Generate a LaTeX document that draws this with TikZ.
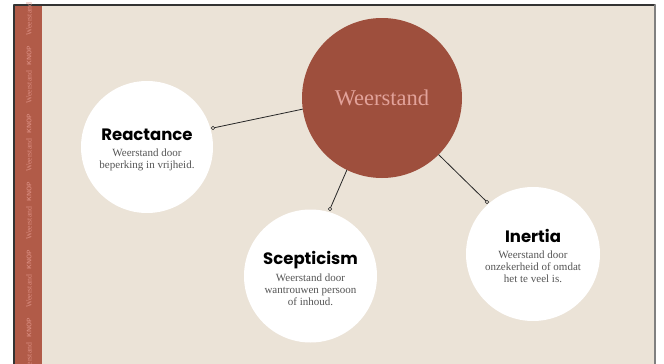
\documentclass[tikz,border=0pt]{standalone}
\usepackage{fontspec}
\setmainfont{Liberation Serif}
\newfontfamily\titlefont{Poppins}
\usetikzlibrary{positioning}
\definecolor{slidebg}{HTML}{EBE3D7}
\definecolor{rust}{HTML}{9E4F3D}
\definecolor{stripred}{HTML}{B15B48}
\definecolor{stripink}{HTML}{D98C80}
\definecolor{pinktext}{HTML}{E2A29A}
\definecolor{desctext}{HTML}{555555}
\tikzset{
  bubble/.style={circle,fill=white,inner sep=0pt},
  bubbletext/.style={inner sep=0pt,align=center,
    font=\fontsize{11}{12}\selectfont,text=desctext},
  link/.style={line width=0.8pt,black!85},
  dot/.style={draw=black!85,fill=slidebg,line width=0.6pt},
  striptext/.style={rotate=90,text=stripink,inner sep=0pt,font=\fontsize{7.8}{8}\selectfont}
}
\newcommand{\bubbletitle}[1]{{\titlefont\bfseries\color{black}\fontsize{16.5}{19}\selectfont #1}\\[4pt]}
\begin{document}
\begin{tikzpicture}[x=1pt,y=-1pt,line cap=round,line join=round]
\useasboundingbox (0,0) rectangle (664,364);
\fill[white] (0,0) rectangle (664,364);
\fill[slidebg] (14,5) rectangle (655,364);
\fill[stripred] (14,5) rectangle (42,364);
\draw[black!80,line width=1.2pt] (14,364) -- (14,5) -- (655,5);
\draw[black!50,line width=1.6pt] (655,5) -- (655,364);
% side strip
\foreach \y in {19,87,155,223,291,359}{
  \node[striptext] at (29,\y) {Weerstand};
  \node[striptext,font=\sffamily\bfseries\fontsize{6.5}{7}\selectfont] at (29,\y-31) {KNOP};
}
% centre
\node[circle,fill=rust,minimum size=160pt,inner sep=0pt,text=pinktext,
  font=\fontsize{22.5}{25}\selectfont] (main) at (382,98) {Weerstand};
% bubbles
\node[bubble,minimum size=132pt] (reactance) at (147,147) {};
\node[bubble,minimum size=133pt] (scepticism) at (310.5,276) {};
\node[bubble,minimum size=134pt] (inertia) at (533,254) {};
\node[bubbletext] (reactance-txt) at ([yshift=-2.5pt]reactance.center)
  {\bubbletitle{Reactance}Weerstand door\\beperking in vrijheid.};
\node[bubbletext] (scepticism-txt) at ([yshift=-2pt]scepticism.center)
  {\bubbletitle{Scepticism}Weerstand door\\wantrouwen persoon\\of inhoud.};
\node[bubbletext] (inertia-txt) at ([yshift=-2pt]inertia.center)
  {\bubbletitle{Inertia}Weerstand door\\onzekerheid of omdat\\het te veel is.};
% connectors
\coordinate (rdot) at (213,128);
\coordinate (sdot) at (330,209);
\coordinate (idot) at (487,202);
\draw[link] (main.188.5) -- (rdot);
\draw[link] (main.244.7) -- (sdot);
\draw[link] (main.315.5) -- (idot);
\foreach \d in {rdot,sdot,idot}
  \draw[dot] (\d) circle (1.8pt);
\end{tikzpicture}
\end{document}
